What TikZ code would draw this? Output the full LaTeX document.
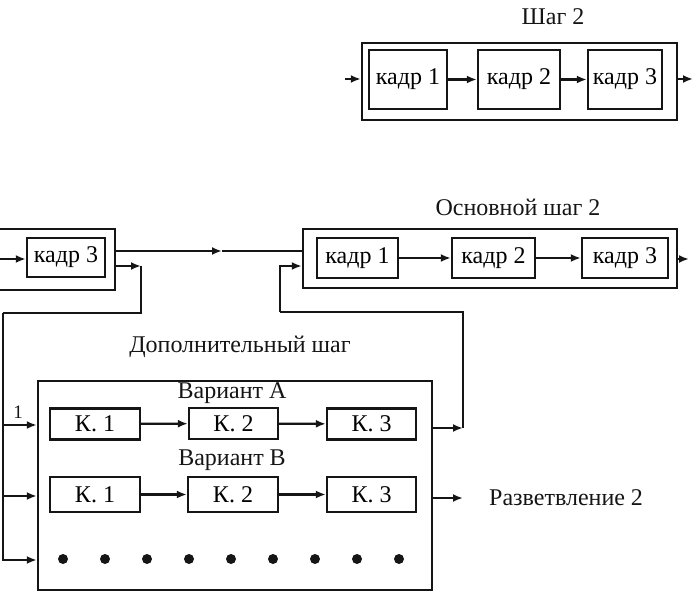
\documentclass[tikz,border=0pt]{standalone}
\usepackage{fontspec}
\setmainfont{Liberation Serif}
\usepackage{tikz}
\usetikzlibrary{arrows.meta,positioning,calc}
\definecolor{ink}{HTML}{151515}
\tikzset{
  framebox/.style n args={2}{
    rectangle, draw=ink, line width=2.4pt,
    minimum width=#1, minimum height=#2,
    inner sep=0pt, font=\fontsize{24}{27}\selectfont
  },
  stepbox/.style n args={2}{
    rectangle, draw=ink, line width=2.4pt,
    minimum width=#1, minimum height=#2, inner sep=0pt
  },
  flow/.style={
    -{Latex[length=10pt,width=8pt]}, line width=2.2pt, color=ink
  },
  plain/.style={line width=2.2pt, color=ink},
  labelnode/.style={
    font=\fontsize{24}{27}\selectfont, color=ink, inner sep=0pt
  },
  dotmark/.style={circle, fill=ink, minimum size=10pt, inner sep=0pt},
}

\begin{document}
\begin{tikzpicture}[x=1pt,y=-1pt]
  \clip (0,0) rectangle (696,593);

  % ── Шаг 2 ──
  \node[labelnode] (t1) at (553,17) {Шаг 2};
  \node[stepbox={315pt}{77pt}] (st1) at (519.5,81.5) {};
  \node[framebox={78pt}{59pt}] (a1) at (408,79.5) {кадр 1};
  \node[framebox={82pt}{59pt}] (a2) at (519,79.5) {кадр 2};
  \node[framebox={74pt}{59pt}] (a3) at (625,79.5) {кадр 3};
  \coordinate (in1) at (345,79);
  \coordinate (out1) at (693,79);

  \draw[flow] (in1) -- (in1 -| st1.west);
  \draw[flow] (a1) -- (a2);
  \draw[flow] (a2) -- (a3);
  \draw[flow] (st1.east |- out1) -- (out1);

  % ── left block (cut off) ──
  \node[stepbox={122pt}{61pt}] (stL) at (54,259.5) {};
  \node[framebox={78pt}{39pt}] (l3) at (66,257.5) {кадр 3};
  \coordinate (inL) at (-2,259);
  \draw[flow] (inL) -- (inL -| l3.west);

  % ── Основной шаг 2 ──
  \node[labelnode] (t2) at (518,207) {Основной шаг 2};
  \node[stepbox={374pt}{59pt}] (st2) at (490,258.5) {};
  \node[framebox={81pt}{40pt}] (m1) at (357.5,258) {кадр 1};
  \node[framebox={83pt}{40pt}] (m2) at (493.5,258) {кадр 2};
  \node[framebox={86pt}{40pt}] (m3) at (625,258) {кадр 3};
  \coordinate (out2) at (689,259);

  \draw[flow] (m1) -- (m2);
  \draw[flow] (m2) -- (m3);
  \draw[flow] (st2.east |- out2) -- (out2);

  % main link between the steps
  \coordinate (midL) at (222,251);
  \draw[flow] (stL.east |- midL) -- (midL);
  \draw[plain] (midL) -- (st2.west |- midL);

  % ── Дополнительный шаг ──
  \node[labelnode] (t3) at (240,347) {Дополнительный шаг};
  \node[stepbox={394pt}{209pt}] (ex) at (235,485.5) {};
  \node[labelnode] (va) at (232,393) {Вариант A};
  \node[labelnode] (vb) at (232,460) {Вариант B};

  \node[framebox={90pt}{31pt}] (ka1) at (95,424) {К. 1};
  \node[framebox={89pt}{31pt}] (ka2) at (233.5,423.5) {К. 2};
  \node[framebox={89pt}{31pt}] (ka3) at (371.5,424) {К. 3};
  \draw[flow] (ka1) -- (ka2);
  \draw[flow] (ka2) -- (ka3);

  \node[framebox={90pt}{35pt}] (kb1) at (95,494.5) {К. 1};
  \node[framebox={90pt}{35pt}] (kb2) at (233,494.5) {К. 2};
  \node[framebox={89pt}{35pt}] (kb3) at (371.5,494.5) {К. 3};
  \draw[flow] (kb1) -- (kb2);
  \draw[flow] (kb2) -- (kb3);

  \foreach \i in {0,...,8}
    \node[dotmark] (d\i) at (63+42*\i,559) {};

  % branch into the additional step
  \coordinate (fbL) at (141,266);
  \coordinate (busL) at (3,313);
  \draw[flow] (stL.east |- fbL) -- (fbL);
  \draw[plain] (fbL) |- (busL);
  \draw[flow] (busL) |- (ex.west |- 0,560);
  \draw[flow] (busL |- 0,425) -- (ex.west |- 0,425);
  \draw[flow] (busL |- 0,496) -- (ex.west |- 0,496);
  \node[labelnode, font=\fontsize{19}{21}\selectfont] (n1) at (18,412) {1};

  % return to the main step
  \coordinate (fbR) at (463,428);
  \coordinate (busR) at (280,312);
  \draw[flow] (ex.east |- fbR) -- (fbR);
  \draw[plain] (fbR) |- (busR);
  \draw[flow] (busR) |- (st2.west |- 0,266);

  % Разветвление 2
  \coordinate (outB) at (463,498);
  \draw[flow] (ex.east |- outB) -- (outB);
  \node[labelnode, anchor=west] (br) at (489,498) {Разветвление 2};
\end{tikzpicture}
\end{document}
